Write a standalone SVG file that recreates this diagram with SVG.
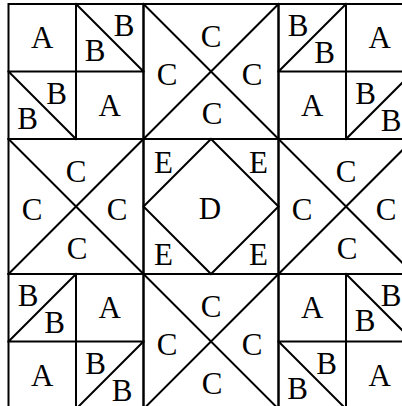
<svg xmlns="http://www.w3.org/2000/svg" width="402" height="406" viewBox="0 0 402 406">
<style>
.ln{stroke:#000;stroke-width:2;fill:none;stroke-linecap:square}
text{font-family:"Liberation Serif","Times New Roman",serif;font-size:31px;text-anchor:middle;fill:#000}
</style>
<rect x="0" y="0" width="402" height="406" fill="#fff"/>
<g id="block-r1c1">
<rect class="ln" x="8.5" y="4" width="135" height="135"/>
<path class="ln" d="M76 4V139M8.5 71.5H143.5M76 4L143.5 71.5M8.5 71.5L76 139"/>
<text x="42.25" y="48.25">A</text><text x="124" y="36">B</text><text x="95" y="61">B</text>
<text x="56.5" y="103.5">B</text><text x="27.5" y="128.5">B</text><text x="109.75" y="115.75">A</text>
</g>
<g id="block-r1c2">
<rect class="ln" x="143.5" y="4" width="135" height="135"/>
<path class="ln" d="M143.5 4L278.5 139M278.5 4L143.5 139"/>
<text x="211" y="46.5">C</text><text x="167" y="84.5">C</text><text x="252" y="84.5">C</text><text x="212" y="124">C</text>
</g>
<g id="block-r1c3">
<rect class="ln" x="278.5" y="4" width="135" height="135"/>
<path class="ln" d="M346 4V139M278.5 71.5H413.5M278.5 71.5L346 4M346 139L413.5 71.5"/>
<text x="298" y="36">B</text><text x="324.5" y="63">B</text><text x="379.75" y="48.25">A</text>
<text x="312.25" y="115.75">A</text><text x="365.5" y="103.5">B</text><text x="391" y="130.5">B</text>
</g>
<g id="block-r2c1">
<rect class="ln" x="8.5" y="139" width="135" height="135"/>
<path class="ln" d="M8.5 139L143.5 274M143.5 139L8.5 274"/>
<text x="76" y="181.5">C</text><text x="32" y="219.5">C</text><text x="117" y="219.5">C</text><text x="77" y="259">C</text>
</g>
<g id="block-r2c2">
<rect class="ln" x="143.5" y="139" width="135" height="135"/>
<path class="ln" d="M211 139L278.5 206.5L211 274L143.5 206.5Z"/>
<text x="210" y="218.5">D</text>
<text x="163.5" y="173">E</text><text x="258.5" y="173">E</text><text x="163.5" y="264.5">E</text><text x="258.5" y="264.5">E</text>
</g>
<g id="block-r2c3">
<rect class="ln" x="278.5" y="139" width="135" height="135"/>
<path class="ln" d="M278.5 139L413.5 274M413.5 139L278.5 274"/>
<text x="346" y="181.5">C</text><text x="302" y="219.5">C</text><text x="386" y="219.5">C</text><text x="347" y="259">C</text>
</g>
<g id="block-r3c1">
<rect class="ln" x="8.5" y="274" width="135" height="135"/>
<path class="ln" d="M76 274V409M8.5 341.5H143.5M8.5 341.5L76 274M76 409L143.5 341.5"/>
<text x="28" y="306">B</text><text x="54.5" y="333">B</text><text x="109.75" y="318.25">A</text>
<text x="42.25" y="385.75">A</text><text x="95.5" y="373.5">B</text><text x="122" y="400.5">B</text>
</g>
<g id="block-r3c2">
<rect class="ln" x="143.5" y="274" width="135" height="135"/>
<path class="ln" d="M143.5 274L278.5 409M278.5 274L143.5 409"/>
<text x="211" y="316.5">C</text><text x="167" y="354.5">C</text><text x="252" y="354.5">C</text><text x="212" y="394">C</text>
</g>
<g id="block-r3c3">
<rect class="ln" x="278.5" y="274" width="135" height="135"/>
<path class="ln" d="M346 274V409M278.5 341.5H413.5M346 274L413.5 341.5M278.5 341.5L346 409"/>
<text x="312.25" y="318.25">A</text><text x="391" y="306">B</text><text x="365" y="331">B</text>
<text x="326.5" y="373.5">B</text><text x="297.5" y="398.5">B</text><text x="379.75" y="385.75">A</text>
</g>
<g id="connectors"/>
</svg>
